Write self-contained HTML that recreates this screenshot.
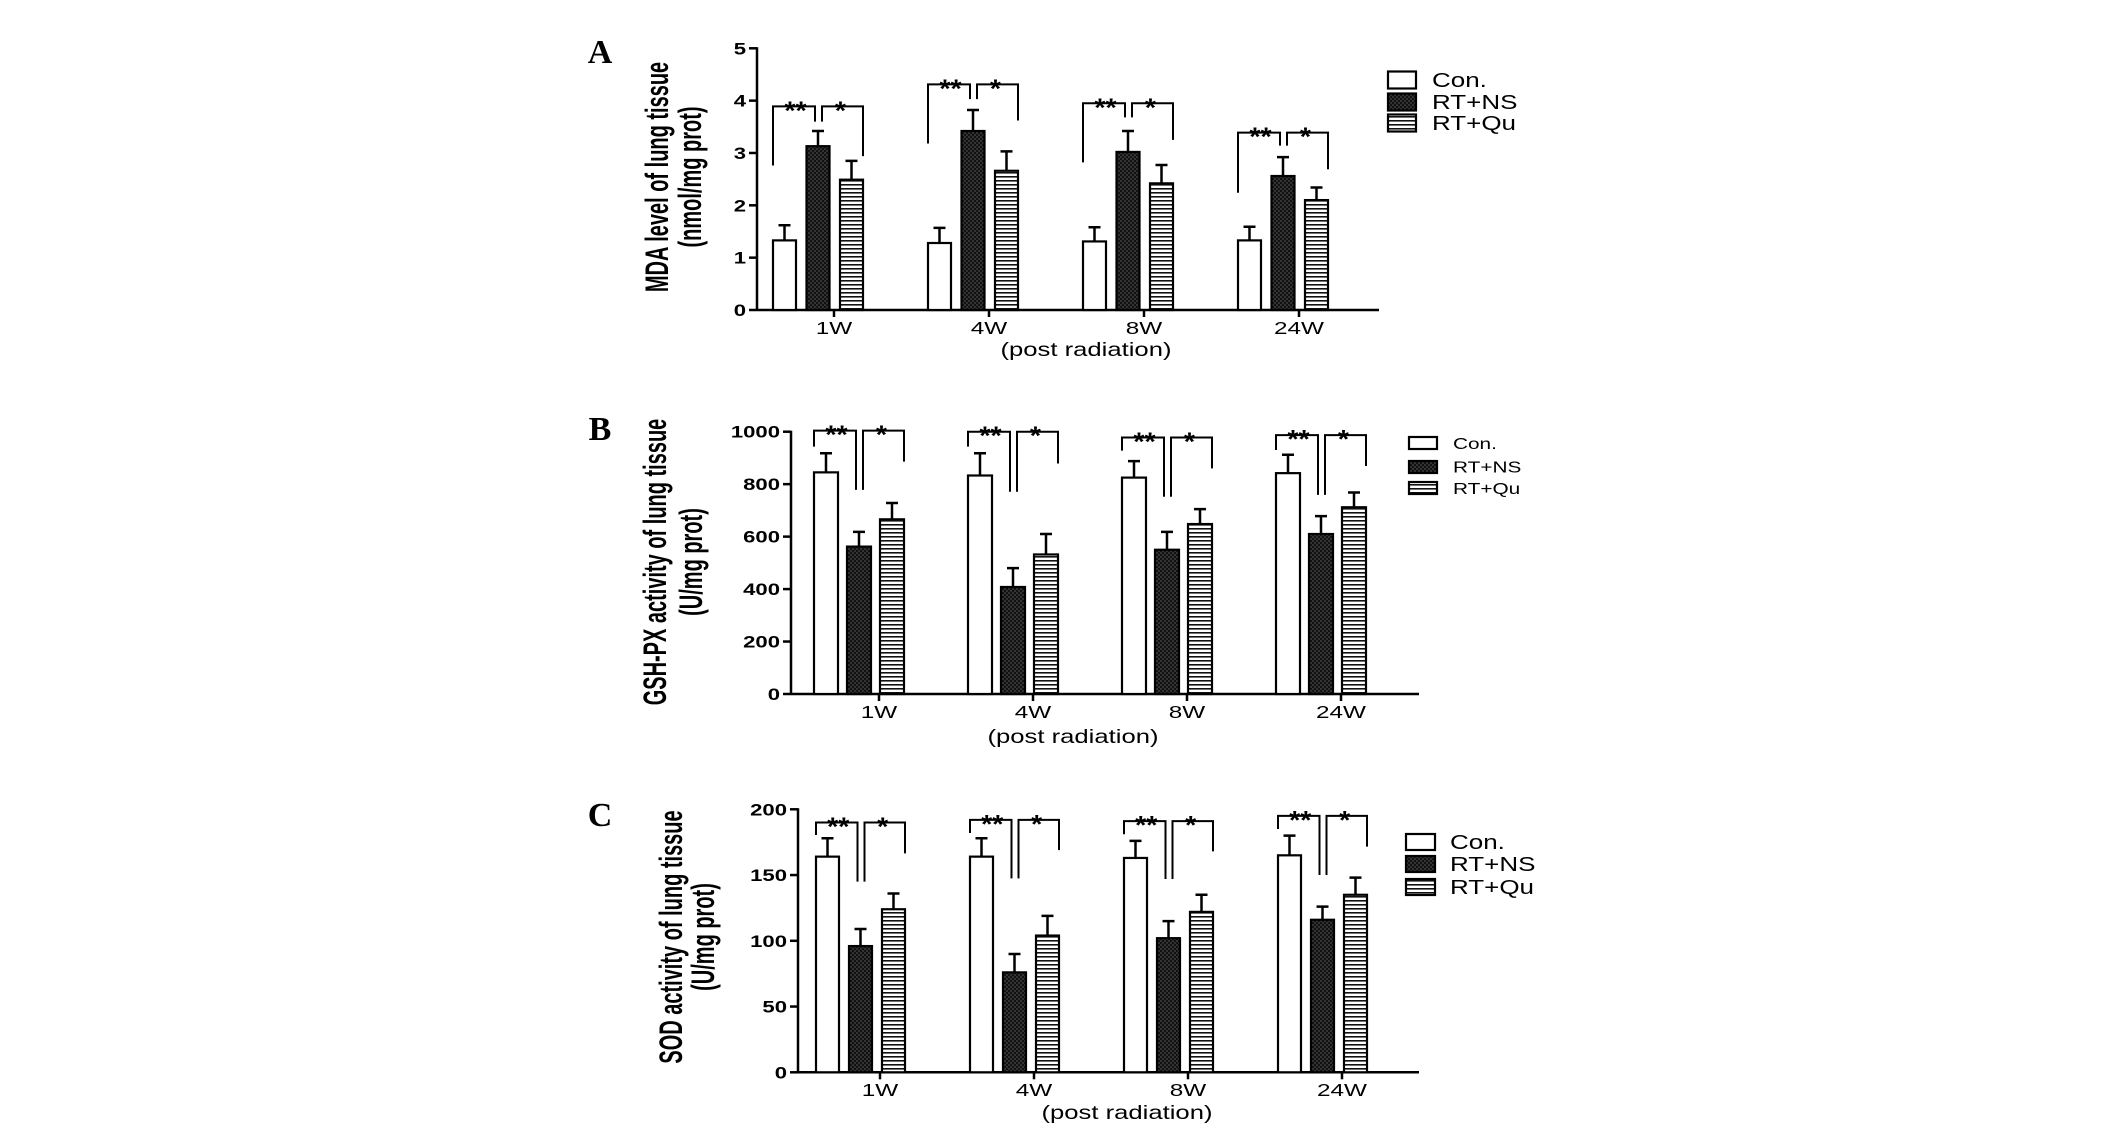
<!DOCTYPE html>
<html><head><meta charset="utf-8"><style>
html,body{margin:0;padding:0;background:#fff;}
svg{display:block;}
text{font-family:"Liberation Sans",sans-serif;fill:#000;}
</style></head><body>
<svg id="fig" width="2126" height="1139" viewBox="0 0 2126 1139" xmlns="http://www.w3.org/2000/svg">
<defs>
<pattern id="chk" width="4" height="4" patternUnits="userSpaceOnUse"><rect width="4" height="4" fill="#111"/><rect width="2" height="2" fill="#333"/><rect x="2" y="2" width="2" height="2" fill="#333"/></pattern>
<pattern id="str" width="4" height="4" patternUnits="userSpaceOnUse"><rect width="4" height="4" fill="#fff"/><rect width="4" height="1.6" fill="#111"/></pattern>
</defs>
</svg>
<script>
const categories=["1W","4W","8W","24W"];
const seriesNames=["Con.","RT+NS","RT+Qu"];
// Panel A (MDA)
const aCon=[1.33,1.28,1.31,1.33], aConErr=[1.62,1.57,1.58,1.59];
const aNS=[3.13,3.42,3.02,2.56], aNSErr=[3.42,3.82,3.42,2.92];
const aQu=[2.49,2.66,2.42,2.10], aQuErr=[2.85,3.03,2.77,2.34];
const aTicks=[0,1,2,3,4,5];
const aSigTop=[3.89,4.31,3.95,3.39], aSigLeft=[2.76,3.18,2.82,2.24], aSigMid=[3.6,4.03,3.68,3.14], aSigRight=[2.94,3.62,3.25,2.69];
// Panel B (GSH-PX)
const bCon=[845,833,825,842], bConErr=[918,918,888,912];
const bNS=[562,408,550,610], bNSErr=[618,480,618,678];
const bQu=[666,532,648,712], bQuErr=[728,610,705,768];
const bTicks=[0,200,400,600,800,1000];
const bSigTop=[1004,1000,978,987], bSigLeft=[943,943,928,930], bSigMid=[778,771,752,759], bSigRight=[886,879,860,869];
// Panel C (SOD)
const cCon=[164,164,163,165], cConErr=[178,178,176,180];
const cNS=[96,76,102,116], cNSErr=[109,90,115,126];
const cQu=[124,104,122,135], cQuErr=[136,119,135,148];
const cTicks=[0,50,100,150,200];
const cSigTop=[190,192,191,195], cSigLeft=[180.5,182,181,185], cSigMid=[145,147.5,147,150], cSigRight=[166.5,169,168,171.6];

const K=1.45;
const NS="http://www.w3.org/2000/svg";
const svg=document.getElementById('fig');
function el(tag,attrs,parent){const e=document.createElementNS(NS,tag);for(const a in attrs)e.setAttribute(a,attrs[a]);(parent||svg).appendChild(e);return e;}
function txt(x,y,s,size,weight,anchor,family,parent,k){
  const kk=k||K;
  const t=el('text',{x:x/kk,y:y,'font-size':size,'font-weight':weight,'text-anchor':anchor,transform:`scale(${kk},1)`},parent);
  if(family)t.setAttribute('style','font-family:'+family);
  t.textContent=s;return t;
}
function rtxt(x,y,s,size,parent){
  const t=el('text',{x:0,y:0,'font-size':size,'font-weight':'bold','text-anchor':'middle',transform:`translate(${x},${y}) scale(1.6,1) rotate(-90)`},parent);
  t.textContent=s;return t;
}
const fills=['#fff','url(#chk)','url(#str)'];

function panel(p){
  const g=el('g',{});
  
  
  const yS=v=>p.y0-(v-p.min)/(p.max-p.min)*(p.y0-p.yTop);
  const lt=txt(p.letterX,p.letterY+4,p.letter,34,'bold','middle','"Liberation Serif",serif',g,1.0);
  
  
  const ya=el('line',{x1:p.ax,y1:yS(p.max)-1,x2:p.ax,y2:p.y0,stroke:'#000','stroke-width':2.5},g);
  
  
  const xa=el('line',{x1:p.ax,y1:p.y0,x2:p.axEnd,y2:p.y0,stroke:'#000','stroke-width':2.5},g);
  
  
  p.ticks.forEach(v=>{
    el('line',{x1:p.ax-8,y1:yS(v),x2:p.ax,y2:yS(v),stroke:'#000','stroke-width':2.5},g);
    const t=txt(p.ax-11,yS(v)+6,String(v),17,'bold','end',null,g,1.3);
    
    
  });
  const data=[[p.con,p.conE],[p.ns,p.nsE],[p.qu,p.quE]];
  categories.forEach((c,i)=>{
    const gx=p.gx0+i*p.gStep;
    data.forEach((d,s)=>{
      const x=gx+s*p.pitch;
      const r=el('rect',{x:x,y:yS(d[0][i]),width:p.bw,height:p.y0-yS(d[0][i]),fill:fills[s],stroke:'#000','stroke-width':2.2},g);
      
      
      const cx=x+p.bw/2;
      const e=el('path',{d:`M${cx},${yS(d[0][i])}V${yS(d[1][i])}M${cx-6},${yS(d[1][i])}H${cx+6}`,stroke:'#000','stroke-width':2.5,fill:'none'},g);
      
      
    });
    const lx=gx, mx=gx+p.pitch+p.bw/2, rx=gx+2*p.pitch+p.bw;
    const top=yS(p.sTop[i]);
    const br=el('path',{d:`M${lx},${yS(p.sLeft[i])}V${top}H${mx-3}V${yS(p.sMid[i])}M${mx+4},${yS(p.sMid[i])}V${top}H${rx}V${yS(p.sRight[i])}`,stroke:'#000','stroke-width':2,fill:'none'},g);
    
    
    const s1=txt((lx+mx)/2,top+13,'**',26,'bold','middle',null,g,1.1);
    
    
    const s2=txt((mx+rx)/2,top+13,'*',26,'bold','middle',null,g,1.1);
    
    
    const tx=gx+p.tickOff;
    el('line',{x1:tx,y1:p.y0,x2:tx,y2:p.y0+7,stroke:'#000','stroke-width':2.5},g);
    const xl=txt(tx,p.xlY,c,18,'normal','middle',null,g,1.35);
    
    
  });
  const xt=txt(p.xtX,p.xtY,'(post radiation)',19,'normal','middle',null,g,1.35);
  
  
  const t1=rtxt(p.t1x,p.tCy,p.title1,20,g);
  
  
  const t2=rtxt(p.t2x,p.tCy,p.title2,20,g);
  
  
  seriesNames.forEach((n,s)=>{
    const y=p.legY[s];
    const lb=el('rect',{x:p.legX,y:y-p.legH/2,width:p.legW,height:p.legH,fill:fills[s],stroke:'#000','stroke-width':2.2},g);
    
    
    const lt2=txt(p.legTX,y+p.legFs*0.36,n,p.legFs,'normal','start',null,g,1.3);
    
    
  });
}
panel({name:'panel-a-mda',letter:'A',letterX:600,letterY:59,min:0,max:5,y0:310,yTop:48.3,ax:757,axEnd:1379,ticks:aTicks,
  con:aCon,conE:aConErr,ns:aNS,nsE:aNSErr,qu:aQu,quE:aQuErr,sTop:aSigTop,sLeft:aSigLeft,sMid:aSigMid,sRight:aSigRight,
  gx0:773,gStep:155,pitch:33.5,bw:23,tickOff:61,xlY:334,xtX:1086,xtY:356,t1x:668,t2x:701,tCy:177,
  title1:'MDA level of lung tissue',title2:'(nmol/mg prot)',legX:1388,legW:28,legH:17,legY:[80,102,123],legTX:1432,legFs:20});
panel({name:'panel-b-gshpx',letter:'B',letterX:600,letterY:436,min:0,max:1000,y0:694,yTop:431.7,ax:791,axEnd:1419,ticks:bTicks,
  con:bCon,conE:bConErr,ns:bNS,nsE:bNSErr,qu:bQu,quE:bQuErr,sTop:bSigTop,sLeft:bSigLeft,sMid:bSigMid,sRight:bSigRight,
  gx0:814,gStep:154,pitch:33,bw:24,tickOff:65,xlY:718,xtX:1073,xtY:743,t1x:666,t2x:702,tCy:562,
  title1:'GSH-PX activity of lung tissue',title2:'(U/mg prot)',legX:1409,legW:28,legH:12,legY:[443,467,488],legTX:1453,legFs:16});
panel({name:'panel-c-sod',letter:'C',letterX:600,letterY:822,min:0,max:200,y0:1072.3,yTop:809.3,ax:798,axEnd:1419,ticks:cTicks,
  con:cCon,conE:cConErr,ns:cNS,nsE:cNSErr,qu:cQu,quE:cQuErr,sTop:cSigTop,sLeft:cSigLeft,sMid:cSigMid,sRight:cSigRight,
  gx0:816,gStep:154,pitch:33,bw:23,tickOff:64,xlY:1096,xtX:1127,xtY:1119,t1x:682,t2x:714,tCy:937,
  title1:'SOD activity of lung tissue',title2:'(U/mg prot)',legX:1406,legW:29,legH:16,legY:[842,864,887],legTX:1450,legFs:20});
</script>
</body></html>
